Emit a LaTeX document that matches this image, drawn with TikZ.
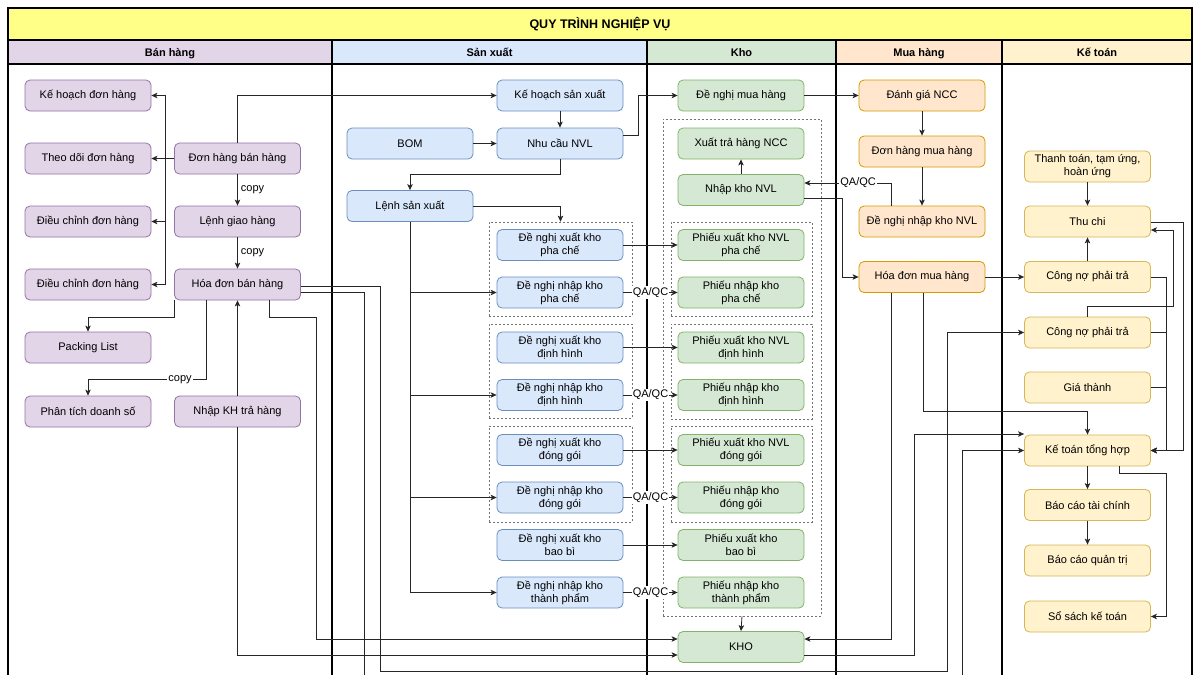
\documentclass[tikz,border=0pt]{standalone}
\usepackage{fontspec}
\setmainfont{Liberation Sans}
\usetikzlibrary{arrows.meta,calc}
\definecolor{purF}{HTML}{E1D5E7}\definecolor{purD}{HTML}{9673A6}
\definecolor{bluF}{HTML}{DAE8FC}\definecolor{bluD}{HTML}{6C8EBF}
\definecolor{grnF}{HTML}{D5E8D4}\definecolor{grnD}{HTML}{82B366}
\definecolor{orgF}{HTML}{FFE6CC}\definecolor{orgD}{HTML}{D79B00}
\definecolor{ylwF}{HTML}{FFF2CC}\definecolor{ylwD}{HTML}{D6B656}
\definecolor{ttlF}{HTML}{FFFF88}
\tikzset{
  box/.style={rounded corners=5pt, minimum width=126pt, minimum height=31pt, align=center,
    font=\fontsize{11}{13}\selectfont, inner sep=0pt, line width=0.8pt},
  pur/.style={box, fill=purF, draw=purD},
  blu/.style={box, fill=bluF, draw=bluD},
  grn/.style={box, fill=grnF, draw=grnD},
  org/.style={box, fill=orgF, draw=orgD},
  ylw/.style={box, fill=ylwF, draw=ylwD},
  conn/.style={line width=0.8pt, draw=black!85, -{Stealth[length=6pt,width=5.5pt,inset=1.5pt]}},
  lanel/.style={line width=2.4pt},
  grp/.style={draw=black!55, dash pattern=on 2pt off 2pt, line width=0.7pt, inner sep=0pt},
  lbl/.style={fill=white, inner sep=1pt, font=\fontsize{11}{13}\selectfont},
  side/.style={right=3pt, inner sep=0pt, font=\fontsize{11}{13}\selectfont},
  hdr/.style={font=\bfseries\fontsize{11}{13}\selectfont, inner sep=0pt, anchor=base},
}
\begin{document}
\begin{tikzpicture}[x=1pt,y=-1pt]
\useasboundingbox (0,0) rectangle (1200,675);
\clip (0,0) rectangle (1200,675);
% backgrounds
\fill[white] (0,0) rectangle (1200,675);
\fill[ttlF] (8,8) rectangle (1192,40);
\fill[purF] (8,40) rectangle (332,64);
\fill[bluF] (332,40) rectangle (647,64);
\fill[grnF] (647,40) rectangle (836,64);
\fill[orgF] (836,40) rectangle (1002,64);
\fill[ylwF] (1002,40) rectangle (1192,64);
% frame and lanes
\draw[lanel] (8,720) -- (8,8) -- (1192,8) -- (1192,720);
\draw[lanel] (8,40) -- (1192,40);
\draw[lanel] (8,64) -- (1192,64);
\draw[lanel] (332,40) -- (332,720);
\draw[lanel] (647,40) -- (647,720);
\draw[lanel] (836,40) -- (836,720);
\draw[lanel] (1002,40) -- (1002,720);
\node[font=\bfseries\fontsize{12.5}{15}\selectfont, inner sep=0pt, anchor=base] (title) at (600,28.5) {QUY TRÌNH NGHIỆP VỤ};
\node[hdr] (hBan) at (170,56) {Bán hàng};
\node[hdr] (hSX) at (489.5,56) {Sản xuất};
\node[hdr] (hKho) at (741.5,56) {Kho};
\node[hdr] (hMua) at (919,56) {Mua hàng};
\node[hdr] (hKT) at (1097,56) {Kế toán};

% groups
\node[grp, minimum width=143pt, minimum height=94pt] (gpc) at (560.5,269) {};
\node[grp, minimum width=143pt, minimum height=94pt] (gdh) at (560.5,371) {};
\node[grp, minimum width=143pt, minimum height=96pt] (gdg) at (560.5,474) {};
\node[grp, minimum width=158pt, minimum height=497pt] (gKho) at (742,367.5) {};
\node[grp, minimum width=141pt, minimum height=94pt] (kpc) at (741.5,269) {};
\node[grp, minimum width=141pt, minimum height=95pt] (kdh) at (741.5,371.5) {};
\node[grp, minimum width=141pt, minimum height=96pt] (kdg) at (741.5,474) {};

% Ban hang
\node[pur] (kh) at (88,95.5) {Kế hoạch đơn hàng};
\node[pur] (td) at (88,158.5) {Theo dõi đơn hàng};
\node[pur] (dc1) at (88,221.5) {Điều chỉnh đơn hàng};
\node[pur] (dc2) at (88,284.5) {Điều chỉnh đơn hàng};
\node[pur] (pl) at (88,347.5) {Packing List};
\node[pur] (pt) at (88,411.5) {Phân tích doanh số};
\node[pur] (dh) at (237.5,158.5) {Đơn hàng bán hàng};
\node[pur] (lg) at (237.5,221.5) {Lệnh giao hàng};
\node[pur] (hd) at (237.5,284.5) {Hóa đơn bán hàng};
\node[pur] (tr) at (237.5,411.5) {Nhập KH trả hàng};

% San xuat
\node[blu] (khsx) at (560,95.5) {Kế hoạch sản xuất};
\node[blu] (bom) at (410,143.5) {BOM};
\node[blu] (nc) at (560,143.5) {Nhu cầu NVL};
\node[blu] (lsx) at (410,206) {Lệnh sản xuất};
\node[blu] (xpc) at (560,245) {Đề nghị xuất kho\\pha chế};
\node[blu] (npc) at (560,292.5) {Đề nghị nhập kho\\pha chế};
\node[blu] (xdh) at (560,347.5) {Đề nghị xuất kho\\định hình};
\node[blu] (ndh) at (560,395) {Đề nghị nhập kho\\định hình};
\node[blu] (xdg) at (560,450) {Đề nghị xuất kho\\đóng gói};
\node[blu] (ndg) at (560,497.5) {Đề nghị nhập kho\\đóng gói};
\node[blu] (xbb) at (560,545) {Đề nghị xuất kho\\bao bì};
\node[blu] (ntp) at (560,592.5) {Đề nghị nhập kho\\thành phẩm};

% Kho
\node[grn] (dnm) at (741,95.5) {Đề nghị mua hàng};
\node[grn] (xtr) at (741,143.5) {Xuất trả hàng NCC};
\node[grn] (nkn) at (741,190) {Nhập kho NVL};
\node[grn] (pxpc) at (741,245) {Phiếu xuất kho NVL\\pha chế};
\node[grn] (pnpc) at (741,292.5) {Phiếu nhập kho\\pha chế};
\node[grn] (pxdh) at (741,347.5) {Phiếu xuất kho NVL\\định hình};
\node[grn] (pndh) at (741,395) {Phiếu nhập kho\\định hình};
\node[grn] (pxdg) at (741,450) {Phiếu xuất kho NVL\\đóng gói};
\node[grn] (pndg) at (741,497.5) {Phiếu nhập kho\\đóng gói};
\node[grn] (pxbb) at (741,545) {Phiếu xuất kho\\bao bì};
\node[grn] (pntp) at (741,592.5) {Phiếu nhập kho\\thành phẩm};
\node[grn] (kho) at (741,647) {KHO};

% Mua hang
\node[org] (dg) at (922,95.5) {Đánh giá NCC};
\node[org] (dhm) at (922,151.5) {Đơn hàng mua hàng};
\node[org] (dnk) at (922,221.5) {Đề nghị nhập kho NVL};
\node[org] (hdm) at (922,277) {Hóa đơn mua hàng};

% Ke toan
\node[ylw] (tt) at (1087.5,166.5) {Thanh toán, tạm ứng,\\hoàn ứng};
\node[ylw] (tc) at (1087.5,221.5) {Thu chi};
\node[ylw] (cn1) at (1087.5,277) {Công nợ phải trả};
\node[ylw] (cn2) at (1087.5,332.5) {Công nợ phải trả};
\node[ylw] (gt) at (1087.5,387.5) {Giá thành};
\node[ylw] (kt) at (1087.5,450.5) {Kế toán tổng hợp};
\node[ylw] (bctc) at (1087.5,505) {Báo cáo tài chính};
\node[ylw] (bcqt) at (1087.5,560.5) {Báo cáo quản trị};
\node[ylw] (ss) at (1087.5,616.5) {Sổ sách kế toán};

% connectors - Ban hang
\draw[conn] (dh.west) -- ++(-9,0) |- (kh.east);
\draw[conn] (dh) -- (td);
\draw[conn] (dh.west) -- ++(-9,0) |- (dc1.east);
\draw[conn] (dh.west) -- ++(-9,0) |- (dc2.east);
\draw[conn] (dh) -- node[side]{copy} (lg);
\draw[conn] (lg) -- node[side]{copy} (hd);
\draw[conn] (hd.south west) -- ++(0,17) -| (pl.north);
\draw[conn] ($(hd.south)+(-31.5,0)$) -- ++(0,79) -| node[pos=0.11, lbl]{copy} (pt.north);
\draw[conn] (tr) -- (hd);
\draw[conn] (tr.south) |- ($(kho.west)+(0,8)$);
\draw[conn] ($(hd.south)+(31.5,0)$) -- ++(0,17) -- ++(47,0) |- ($(kho.west)+(0,-8)$);
\draw[conn] ($(hd.east)+(0,1.5)$) -- ++(79,0) -- ++(0,385) -- ++(567,0) |- (cn2.west);
\draw[conn] ($(hd.east)+(0,7.5)$) -- ++(63,0) -- ++(0,400) -- ++(598,0) |- (kt.west);

% San xuat
\draw[conn] (dh.north) |- (khsx.west);
\draw[conn] (khsx) -- (nc);
\draw[conn] (bom) -- (nc);
\draw[conn] (nc.south) -- ++(0,15) -| (lsx.north);
\draw[conn] (lsx.east) -| (gpc.north);
\draw[conn] ($(nc.east)+(0,-8.5)$) -- ++(15,0) |- (dnm.west);
\draw[conn] (lsx.south) |- (npc.west);
\draw[conn] (lsx.south) |- (ndh.west);
\draw[conn] (lsx.south) |- (ndg.west);
\draw[conn] (lsx.south) |- (ntp.west);
\draw[conn] (xpc) -- (pxpc);
\draw[conn] (xdh) -- (pxdh);
\draw[conn] (xdg) -- (pxdg);
\draw[conn] (xbb) -- (pxbb);
\draw[conn] (npc) -- node[lbl]{QA/QC} (pnpc);
\draw[conn] (ndh) -- node[lbl]{QA/QC} (pndh);
\draw[conn] (ndg) -- node[lbl]{QA/QC} (pndg);
\draw[conn] (ntp) -- node[lbl]{QA/QC} (pntp);

% Kho
\draw[conn] (nkn) -- (xtr);
\draw[conn] (gKho.south) -- (kho.north);
\draw[conn] (dnm) -- (dg);
\draw[conn] ($(nkn.east)+(0,8)$) -- ++(38,0) |- (hdm.west);
\draw[conn] ($(dnk.north)+(-31,0)$) |- node[pos=0.69, lbl]{QA/QC} ($(nkn.east)+(0,-7)$);

% Mua hang
\draw[conn] (dg) -- (dhm);
\draw[conn] (dhm) -- (dnk);
\draw[conn] (hdm) -- (cn1);
\draw[conn] ($(hdm.south)+(-31,0)$) |- ($(kho.east)+(0,-8)$);
\draw[conn] ($(kho.east)+(0,8)$) -- ++(110,0) |- ($(kt.west)+(0,-16.5)$);
\draw[conn] ($(hdm.south)+(1,0)$) -- ++(0,118) -| (kt.north);

% Ke toan
\draw[conn] (tt) -- (tc);
\draw[conn] (cn1) -- (tc);
\draw[conn] ($(tc.east)+(0,0.5)$) -- ++(32,0) |- (kt.east);
\draw[conn] (cn1.east) -- ++(15,0) |- (kt.east);
\draw[conn] (cn2.east) -- ++(15,0) |- (kt.east);
\draw[conn] (gt.east) -- ++(15,0) |- (kt.east);
\draw[conn] (cn2.north) -- ++(0,-10) -- ++(85.5,0) |- ($(tc.east)+(0,8.5)$);
\draw[conn] ($(kt.south)+(31.5,0)$) -- ++(0,7) -- ++(47,0) |- (ss.east);
\draw[conn] (kt) -- (bctc);
\draw[conn] (bctc) -- (bcqt);
\end{tikzpicture}
\end{document}
